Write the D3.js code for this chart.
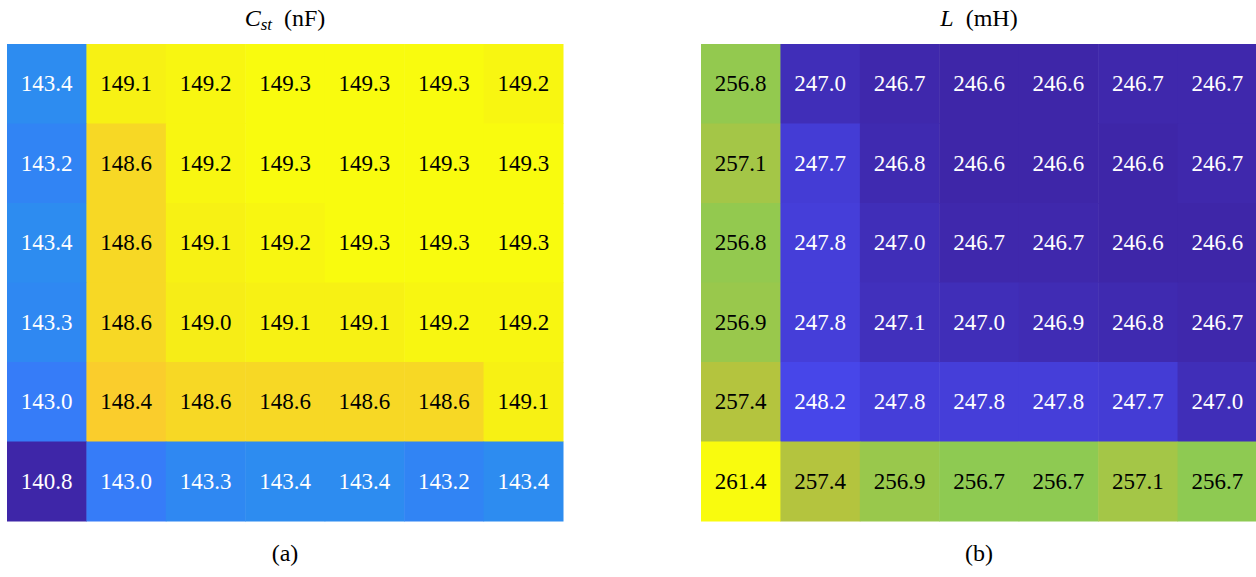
<!DOCTYPE html>
<html>
<head>
<meta charset="utf-8">
<script src="https://cdn.jsdelivr.net/npm/d3@7"></script>
<style>
  body { margin: 0; background: #fff; }
</style>
</head>
<body>
<svg id="chart"></svg>
<script>
// Values (rows top to bottom, columns left to right)
const cstValues = [
    [143.4, 149.1, 149.2, 149.3, 149.3, 149.3, 149.2],
    [143.2, 148.6, 149.2, 149.3, 149.3, 149.3, 149.3],
    [143.4, 148.6, 149.1, 149.2, 149.3, 149.3, 149.3],
    [143.3, 148.6, 149.0, 149.1, 149.1, 149.2, 149.2],
    [143.0, 148.4, 148.6, 148.6, 148.6, 148.6, 149.1],
    [140.8, 143.0, 143.3, 143.4, 143.4, 143.2, 143.4]
];
const lValues = [
    [256.8, 247.0, 246.7, 246.6, 246.6, 246.7, 246.7],
    [257.1, 247.7, 246.8, 246.6, 246.6, 246.6, 246.7],
    [256.8, 247.8, 247.0, 246.7, 246.7, 246.6, 246.6],
    [256.9, 247.8, 247.1, 247.0, 246.9, 246.8, 246.7],
    [257.4, 248.2, 247.8, 247.8, 247.8, 247.7, 247.0],
    [261.4, 257.4, 256.9, 256.7, 256.7, 257.1, 256.7]
];
const panelTitles = ["C_st", "L"];
const panelUnits = ["(nF)", "(mH)"];
const panelLabels = ["(a)", "(b)"];

// parula colormap stops (position, r, g, b)
const parulaStops = [
    [0.000, 62, 38, 168],
    [0.111, 71, 71, 235],
    [0.222, 62, 111, 255],
    [0.333, 39, 150, 235],
    [0.444, 8, 181, 208],
    [0.556, 49, 198, 159],
    [0.667, 129, 204, 89],
    [0.778, 220, 189, 41],
    [0.889, 251, 203, 46],
    [0.944, 244, 228, 28],
    [1.000, 249, 251, 14]
];
const parulaScale = d3.scaleLinear()
    .domain(parulaStops.map(s => s[0]))
    .range(parulaStops.map(s => d3.rgb(s[1], s[2], s[3])))
    .interpolate(d3.interpolateRgb)
    .clamp(true);

const W = 1256, H = 577;
const FONT = '"Liberation Serif", serif';
const svg = d3.select('#chart')
    .attr('width', W)
    .attr('height', H)
    .attr('font-family', FONT);

const panelX = [7, 701];
const gridTop = 44, gridW = 556, gridH = 477;

function drawPanel(data, i) {
    const nRows = data.length, nCols = data[0].length;
    const g = svg.append('g').attr('transform', `translate(${panelX[i]},${gridTop})`);

    const x = d3.scaleBand().domain(d3.range(nCols)).range([0, gridW]);
    const y = d3.scaleBand().domain(d3.range(nRows)).range([0, gridH]);
    const t = d3.scaleLinear().domain(d3.extent(data.flat())).range([0, 1]);
    const color = v => parulaScale(t(v));

    const cells = data.flatMap((row, r) => row.map((v, c) => ({r, c, v})));

    g.selectAll('rect')
        .data(cells)
        .join('rect')
        .attr('x', d => x(d.c))
        .attr('y', d => y(d.r))
        .attr('width', x.bandwidth() + 0.5)
        .attr('height', y.bandwidth() + 0.5)
        .attr('fill', d => color(d.v));

    g.selectAll('text.val')
        .data(cells)
        .join('text')
        .attr('class', 'val')
        .attr('x', d => x(d.c) + x.bandwidth() / 2)
        .attr('y', d => y(d.r) + y.bandwidth() / 2)
        .attr('dy', '0.33em')
        .attr('text-anchor', 'middle')
        .attr('font-size', 23)
        .attr('fill', d => t(d.v) < 0.5 ? '#fff' : '#000')
        .text(d => d.v.toFixed(1));

    // title above the grid
    const cx = panelX[i] + gridW / 2;
    const title = svg.append('text')
        .attr('x', cx)
        .attr('y', 26)
        .attr('text-anchor', 'middle')
        .attr('font-size', 24);
    const parts = panelTitles[i].split('_');
    title.append('tspan').attr('font-style', 'italic').text(parts[0]);
    if (parts[1]) {
        title.append('tspan').attr('font-style', 'italic').attr('font-size', 17)
            .attr('dy', 4).text(parts[1]);
        title.append('tspan').attr('dy', -4).text('\u00a0\u00a0' + panelUnits[i]);
    } else {
        title.append('tspan').text('\u00a0\u00a0' + panelUnits[i]);
    }

    // panel label below
    svg.append('text')
        .attr('x', cx)
        .attr('y', 561)
        .attr('text-anchor', 'middle')
        .attr('font-size', 24)
        .text(panelLabels[i]);
}

drawPanel(cstValues, 0);
drawPanel(lValues, 1);
</script>
</body>
</html>
